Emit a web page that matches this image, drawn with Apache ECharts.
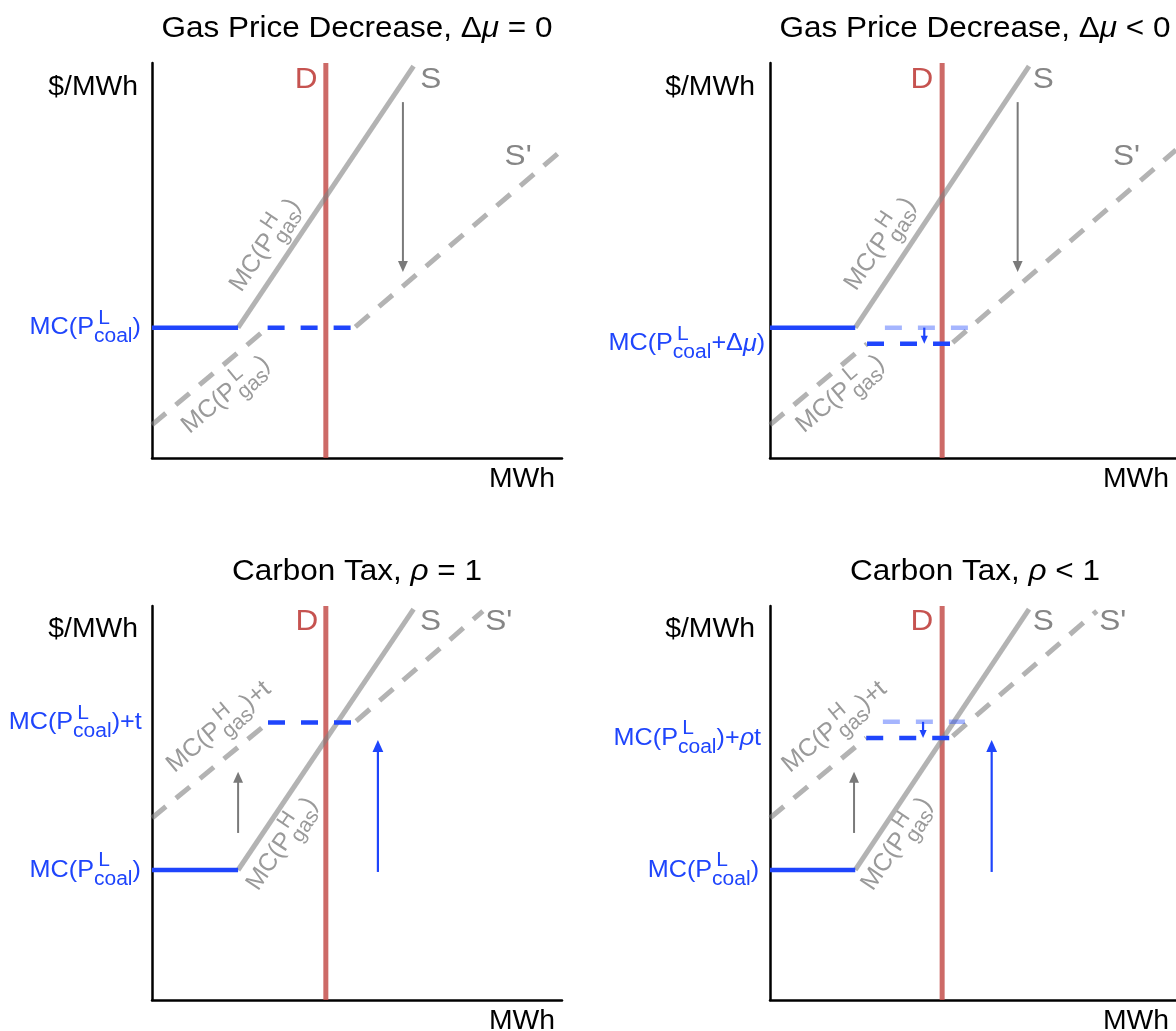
<!DOCTYPE html>
<html>
<head>
<meta charset="utf-8">
<script src="https://cdn.jsdelivr.net/npm/echarts@6/dist/echarts.min.js"></script>
<style>
html, body { margin: 0; padding: 0; background: #fff; }
#chart { width: 1176px; height: 1031px; }
</style>
</head>
<body>
<div id="chart"></div>
<script>
// Quantity (MWh) on x and price ($/MWh) on y, both on a 0–100 scale in every panel.

// Shared curves
const demand = [[42.4, 0], [42.4, 100]];
const coalCheap = [[0, 33], [21, 33]];
const gasHigh = [[21, 33], [63.8, 99.2]];

// Gas price decrease, Δμ = 0
const gasLow1 = [[0, 8.4], [28.2, 33]];
const coalMid1 = [[28.2, 33], [49.2, 33]];
const gasLowUp1 = [[49.6, 33.2], [99.5, 77.5]];
const drop1 = [[61.2, 90.1], [61.2, 47.1]];

// Gas price decrease, Δμ < 0
const gasLow2 = [[0, 8.4], [23.9, 28.9]];
const coalOld2 = [[28.3, 33], [48.8, 33]];
const coalMid2 = [[23.9, 28.9], [44.4, 28.9]];
const gasLowUp2 = [[45, 29.2], [100, 78]];
const drop2 = [[61, 90.1], [61, 47.1]];
const coalDrop2 = [[38, 33], [38, 28.9]];

// Carbon tax, ρ = 1
const gasTax3 = [[0, 46.2], [28.3, 70.4]];
const coalTax3 = [[28.3, 70.4], [48.8, 70.4]];
const gasTaxUp3 = [[49.8, 70.8], [80.7, 98.7]];
const gasRise3 = [[21, 42.4], [21, 57.9]];
const coalRise3 = [[55.1, 32.5], [55.1, 66]];

// Carbon tax, ρ < 1
const gasTax4 = [[0, 46.2], [23.7, 66.5]];
const coalFull4 = [[27.8, 70.6], [48, 70.6]];
const coalTax4 = [[23.7, 66.5], [44.2, 66.5]];
const gasTaxUp4 = [[45, 67], [80.5, 98.7]];
const gasRise4 = [[20.7, 42.4], [20.7, 57.9]];
const coalRise4 = [[54.6, 32.5], [54.6, 66]];
const coalDrop4 = [[37.7, 70.6], [37.7, 66.5]];

const titles = [
  'Gas Price Decrease, Δ{i|μ} = 0',
  'Gas Price Decrease, Δ{i|μ} < 0',
  'Carbon Tax, {i|ρ} = 1',
  'Carbon Tax, {i|ρ} < 1'
];

// ---- styling and layout ----
const FONT = "'Liberation Sans', Arial, Helvetica, sans-serif";
const STRETCH = 1.05;
const BLUE = '#1f45fc';
const RED = 'rgba(196,80,76,0.85)';
const GRAY = 'rgba(128,128,128,0.6)';
const LABEL_GRAY = '#9a9a9a';
const CURVE_GRAY = '#868686';
const RED_TEXT = '#c65350';

const grids = [
  { left: 152, top: 63, width: 410, height: 395 },
  { left: 770, top: 63, width: 410, height: 395 },
  { left: 152, top: 606, width: 410, height: 394 },
  { left: 770, top: 606, width: 410, height: 394 }
];

const coalTok = { sup: 'L', sub: 'coal' };
const gasHTok = { sup: 'H', sub: 'gas' };
const gasLTok = { sup: 'L', sub: 'gas' };

function axisName(at, text) { return { at, tokens: [text], size: 27, color: '#000', align: 'right' }; }
function curveName(at, text, color) { return { at, tokens: [text], size: 30, color, align: 'center' }; }
function priceName(at, tokens) { return { at, tokens, size: 24, color: BLUE, align: 'right' }; }
function gasName(at, tokens, rotate) { return { at, tokens, size: 25, color: LABEL_GRAY, align: 'center', rotate, stretch: 1 }; }

const labels = [
  [
    axisName([-3.4, 93.8], '$/MWh'), axisName([98.3, -5.5], 'MWh'),
    curveName([37.6, 95.8], 'D', RED_TEXT), curveName([68, 95.8], 'S', CURVE_GRAY), curveName([89.3, 76.3], "S'", CURVE_GRAY),
    priceName([-2.7, coalCheap[0][1]], ['MC(P', coalTok, ')']),
    gasName([27.6, 53.9], ['MC(P', gasHTok, ')'], 56),
    gasName([18, 16], ['MC(P', gasLTok, ')'], 40)
  ],
  [
    axisName([-3.7, 93.8], '$/MWh'), axisName([98.3, -5.5], 'MWh'),
    curveName([37.4, 95.8], 'D', RED_TEXT), curveName([67.3, 95.8], 'S', CURVE_GRAY), curveName([87.8, 76.3], "S'", CURVE_GRAY),
    priceName([-1.2, coalMid2[0][1]], ['MC(P', coalTok, '+Δ', { i: 'μ' }, ')']),
    gasName([27.1, 54.2], ['MC(P', gasHTok, ')'], 56),
    gasName([17.3, 16.2], ['MC(P', gasLTok, ')'], 40)
  ],
  [
    axisName([-3.4, 93.9], '$/MWh'), axisName([98.3, -5.5], 'MWh'),
    curveName([37.8, 96], 'D', RED_TEXT), curveName([67.9, 96], 'S', CURVE_GRAY), curveName([84.6, 96], "S'", CURVE_GRAY),
    priceName([-2.5, coalTax3[0][1]], ['MC(P', coalTok, ')+t']),
    priceName([-2.7, coalCheap[0][1]], ['MC(P', coalTok, ')']),
    gasName([16.3, 69.3], ['MC(P', gasHTok, ')+t'], 40),
    gasName([31.7, 39.6], ['MC(P', gasHTok, ')'], 56)
  ],
  [
    axisName([-3.7, 93.9], '$/MWh'), axisName([98.3, -5.5], 'MWh'),
    curveName([37.4, 96], 'D', RED_TEXT), curveName([67.3, 96], 'S', CURVE_GRAY), curveName([84.4, 96], "S'", CURVE_GRAY),
    priceName([-2.2, coalTax4[0][1]], ['MC(P', coalTok, ')+', { i: 'ρ' }, 't']),
    priceName([-2.7, coalCheap[0][1]], ['MC(P', coalTok, ')']),
    gasName([15.9, 69.3], ['MC(P', gasHTok, ')+t'], 40),
    gasName([31.2, 39.6], ['MC(P', gasHTok, ')'], 56)
  ]
];

// ---- text layout with stacked super/subscripts ----
const measureCtx = document.createElement('canvas').getContext('2d');
function textWidth(str, size, italic) {
  measureCtx.font = (italic ? 'italic ' : '') + size + 'px ' + FONT;
  return measureCtx.measureText(str).width;
}
function textEl(str, x, y, size, italic, color) {
  return {
    type: 'text', x, y, silent: true,
    style: { text: str, fill: color, fontSize: size, fontFamily: FONT,
      fontStyle: italic ? 'italic' : 'normal', align: 'left', verticalAlign: 'middle' }
  };
}
function layoutTokens(s) {
  const main = s.size, small = Math.round(main * 0.84);
  const kids = [];
  let x = 0;
  s.tokens.forEach(function (tok) {
    if (typeof tok === 'string') {
      kids.push(textEl(tok, x, 0, main, false, s.color));
      x += textWidth(tok, main, false);
    } else if (tok.i) {
      kids.push(textEl(tok.i, x, 0, main, true, s.color));
      x += textWidth(tok.i, main, true);
    } else {
      const supDx = small * 0.2;
      kids.push(textEl(tok.sup, x + supDx, -main * 0.38, small, false, s.color));
      kids.push(textEl(tok.sub, x, main * 0.38, small, false, s.color));
      x += Math.max(textWidth(tok.sub, small, false), textWidth(tok.sup, small, false) + supDx);
    }
  });
  const shift = s.align === 'right' ? -x : (s.align === 'center' ? -x / 2 : 0);
  kids.forEach(function (k) { k.x += shift; });
  return kids;
}
function labelSeries(g, specs) {
  return {
    type: 'custom', xAxisIndex: g, yAxisIndex: g, silent: true, clip: false, z: 20,
    data: specs.map(function (s) { return s.at; }),
    renderItem: function (params, api) {
      const s = specs[params.dataIndex];
      const p = api.coord([api.value(0), api.value(1)]);
      return {
        type: 'group', x: p[0], y: p[1], scaleX: s.stretch || STRETCH,
        rotation: (s.rotate || 0) * Math.PI / 180,
        children: layoutTokens(s)
      };
    }
  };
}

// ---- marks ----
function lineSeries(g, data, color, width, dashed, opacity, z) {
  return {
    type: 'line', xAxisIndex: g, yAxisIndex: g, data, symbol: 'none', silent: true,
    z: z || 2,
    lineStyle: { color, width, opacity: opacity == null ? 1 : opacity, cap: 'butt',
      type: dashed ? (dashed === 'blue' ? [17, 16] : [18, 13]) : 'solid' }
  };
}
function arrowSeries(g, segs, color, width, head) {
  return {
    type: 'custom', xAxisIndex: g, yAxisIndex: g, silent: true, z: 6,
    data: segs.map(function (s) { return [s[0][0], s[0][1], s[1][0], s[1][1]]; }),
    renderItem: function (params, api) {
      const a = api.coord([api.value(0), api.value(1)]);
      const b = api.coord([api.value(2), api.value(3)]);
      const ang = Math.atan2(b[1] - a[1], b[0] - a[0]);
      const ux = Math.cos(ang), uy = Math.sin(ang);
      const w = head * 0.45;
      const base = [b[0] - ux * head, b[1] - uy * head];
      return {
        type: 'group',
        children: [
          { type: 'line', shape: { x1: a[0], y1: a[1], x2: base[0] + ux, y2: base[1] + uy },
            style: { stroke: color, lineWidth: width } },
          { type: 'polygon', shape: { points: [b, [base[0] - uy * w, base[1] + ux * w], [base[0] + uy * w, base[1] - ux * w]] },
            style: { fill: color } }
        ]
      };
    }
  };
}

const panelMarks = [
  { gasLow: gasLow1, gasUp: gasLowUp1, coalOld: null, coalNew: coalMid1, gray: [drop1], blue: [], blueSmall: [] },
  { gasLow: gasLow2, gasUp: gasLowUp2, coalOld: coalOld2, coalNew: coalMid2, gray: [drop2], blue: [], blueSmall: [coalDrop2] },
  { gasLow: gasTax3, gasUp: gasTaxUp3, coalOld: null, coalNew: coalTax3, gray: [gasRise3], blue: [coalRise3], blueSmall: [] },
  { gasLow: gasTax4, gasUp: gasTaxUp4, coalOld: coalFull4, coalNew: coalTax4, gray: [gasRise4], blue: [coalRise4], blueSmall: [coalDrop4] }
];

const series = [];
panelMarks.forEach(function (m, g) {
  series.push(lineSeries(g, demand, RED, 5, false, 1, 2));
  series.push(lineSeries(g, m.gasLow, GRAY, 5, 'gray', 1, 3));
  series.push(lineSeries(g, m.gasUp, GRAY, 5, 'gray', 1, 3));
  series.push(lineSeries(g, gasHigh, GRAY, 5, false, 1, 3));
  series.push(lineSeries(g, coalCheap, BLUE, 4.5, false, 1, 4));
  if (m.coalOld) series.push(lineSeries(g, m.coalOld, BLUE, 4.5, 'blue', 0.4, 4));
  series.push(lineSeries(g, m.coalNew, BLUE, 4.5, 'blue', 1, 4));
  series.push(arrowSeries(g, m.gray, '#7a7a7a', 2, 11));
  if (m.blue.length) series.push(arrowSeries(g, m.blue, BLUE, 2.2, 12));
  if (m.blueSmall.length) series.push(arrowSeries(g, m.blueSmall, BLUE, 2.2, 8));
  series.push(labelSeries(g, labels[g]));
});

function axis(g) {
  return {
    gridIndex: g, type: 'value', min: 0, max: 100,
    axisLine: { show: true, onZero: false, lineStyle: { color: '#000', width: 2.5 } },
    axisTick: { show: false }, axisLabel: { show: false }, splitLine: { show: false }
  };
}

const chart = echarts.init(document.getElementById('chart'), null, { renderer: 'canvas' });
chart.setOption({
  backgroundColor: '#fff',
  animation: false,
  grid: grids.map(function (g) { return Object.assign({ containLabel: false }, g); }),
  xAxis: grids.map(function (_, g) { return axis(g); }),
  yAxis: grids.map(function (_, g) { return axis(g); }),
  graphic: grids.map(function (g, k) {
    return {
      type: 'text', x: g.left + g.width / 2, y: g.top - 34, scaleX: STRETCH, silent: true,
      style: { text: titles[k], fill: '#000', fontSize: 30, fontFamily: FONT, align: 'center', verticalAlign: 'middle',
        rich: { i: { fontStyle: 'italic', fontSize: 30, fontFamily: FONT, fill: '#000' } } }
    };
  }),
  series: series
});
</script>
</body>
</html>
